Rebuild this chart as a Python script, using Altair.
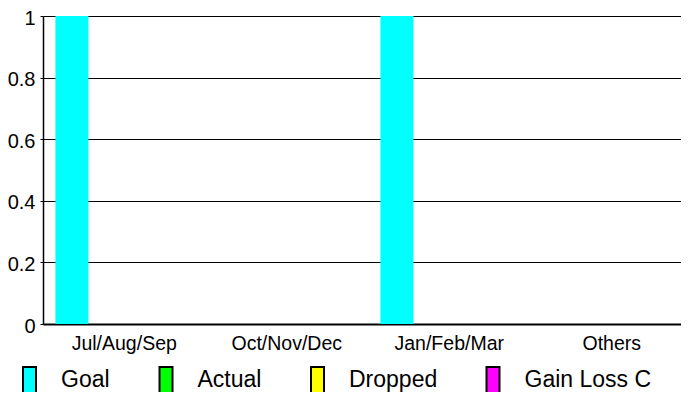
import altair as alt
import pandas as pd

quarters = ["Jul/Aug/Sep", "Oct/Nov/Dec", "Jan/Feb/Mar", "Others"]
series = ["Goal", "Actual", "Dropped", "Gain Loss C"]
colors = ["#00FFFF", "#00FF00", "#FFFF00", "#FF00FF"]
goal = [1, 0, 1, 0]
actual = [0, 0, 0, 0]
dropped = [0, 0, 0, 0]
gain_loss = [0, 0, 0, 0]
y_ticks = [0, 0.2, 0.4, 0.6, 0.8, 1]

rows = []
for s, vals in zip(series, [goal, actual, dropped, gain_loss]):
    for q, v in zip(quarters, vals):
        rows.append({"quarter": q, "series": s, "value": v})
df = pd.DataFrame(rows)

FONT = "Liberation Sans"

chart = alt.Chart(df).mark_bar().encode(
    x=alt.X(
        "quarter:N", sort=quarters,
        scale=alt.Scale(paddingInner=0, paddingOuter=0, range=[0, 650]),
        axis=alt.Axis(title=None, labelAngle=0, labelFontSize=19.5, labelFont=FONT,
                      labelColor="black", ticks=False, domainColor="black",
                      domainWidth=2, labelPadding=10),
    ),
    xOffset=alt.XOffset(
        "series:N", sort=series,
        scale=alt.Scale(paddingInner=0, paddingOuter=0.462, align=0.407),
    ),
    y=alt.Y(
        "value:Q", scale=alt.Scale(domain=[0, 1], nice=False, zero=True),
        axis=alt.Axis(title=None, values=y_ticks, format="~g", grid=True,
                      gridColor="black", gridOpacity=1, gridWidth=1,
                      domainColor="black", domainWidth=1.5, tickColor="black",
                      tickSize=3, labelFontSize=20, labelFont=FONT,
                      labelColor="black", labelPadding=5, labelOffset=2),
    ),
    color=alt.Color(
        "series:N", sort=series,
        scale=alt.Scale(domain=series, range=colors),
        legend=alt.Legend(
            title=None, orient="none", legendX=-27.5, legendY=350,
            direction="horizontal", columns=4,
            symbolType="M-0.5,-1H0.5V1H-0.5Z", symbolSize=676,
            symbolStrokeColor="black", symbolStrokeWidth=2, symbolOpacity=1,
            labelFontSize=23, labelFont=FONT, labelColor="black",
            labelOffset=17.5, columnPadding=41.5, padding=0, labelLimit=300,
        ),
    ),
).properties(
    width=638, height=308,
    autosize=alt.AutoSizeParams(type="none"),
    padding={"left": 35, "top": 8, "right": 0, "bottom": 68},
).configure_view(stroke="transparent")

chart.save("out.html", embed_options={"renderer": "svg", "actions": False})
